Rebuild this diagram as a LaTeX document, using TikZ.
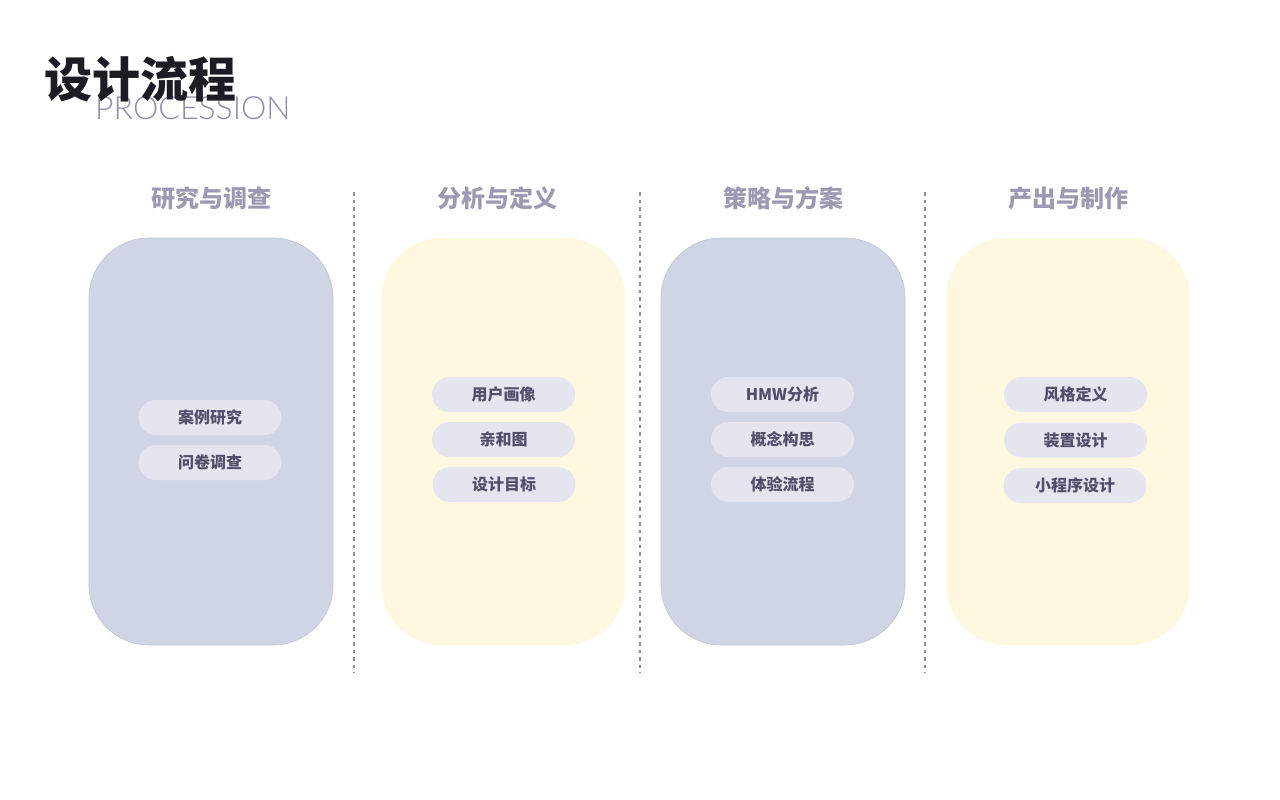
\documentclass[tikz,border=0pt]{standalone}
\usepackage{fontspec}
\setmainfont{Noto Sans CJK SC}
\newfontfamily\latinfont{Lato Light}
\definecolor{cardblue}{HTML}{D0D5E6}
\definecolor{cardyellow}{HTML}{FFF8E1}
\definecolor{pillgray}{HTML}{E4E5EF}
\definecolor{pilltext}{HTML}{51506B}
\definecolor{headgray}{HTML}{9B9AB2}
\definecolor{dashgray}{HTML}{8E8CA8}
\definecolor{subgray}{HTML}{8C8CB0}
\definecolor{titleblack}{HTML}{1C1C24}
\begin{document}
\begin{tikzpicture}[x=1pt,y=-1pt,
  card/.style={rounded corners=60pt, minimum width=244pt, minimum height=407pt, inner sep=0pt},
  blue card/.style={card, fill=cardblue, draw=cardblue!92!black, line width=0.6pt},
  yellow card/.style={card, fill=cardyellow},
  pill/.style={fill=pillgray, rounded corners=17.5pt, minimum width=143pt, minimum height=35pt, inner sep=0pt, text=pilltext, font=\bfseries\fontsize{16}{16}\selectfont},
  head/.style={text=headgray, inner sep=0pt, font=\bfseries\fontsize{24}{24}\selectfont},
  sep/.style={draw=dashgray, line width=1.8pt, dash pattern=on 3.5pt off 4pt}]
        \useasboundingbox (0,0) rectangle (1280,800);

        \node[text=subgray, inner sep=0pt, anchor=west, font=\latinfont\fontsize{32}{32}\selectfont] (P) at (95,108) {PROCESSION};
        \node[text=titleblack, inner sep=0pt, anchor=west, font=\bfseries\fontsize{48}{48}\selectfont] (T) at (44,79) {设计流程};

        \node[head] (HA) at (211,198) {研究与调查};
        \node[head] (HB) at (497,198) {分析与定义};
        \node[head] (HC) at (783,198) {策略与方案};
        \node[head] (HD) at (1068,198) {产出与制作};

        \node[blue card] (A) at (211,441.5) {};
        \node[yellow card] (B) at (503.5,441.5) {};
        \node[blue card] (C) at (783,441.5) {};
        \node[yellow card] (D) at (1068,441.5) {};

        \coordinate (S1) at (354,192);
        \coordinate (E1) at (354,673);
        \coordinate (S2) at (640,192);
        \coordinate (E2) at (640,673);
        \coordinate (S3) at (925,192);
        \coordinate (E3) at (925,673);
        \draw[sep] (S1) -- (E1);
        \draw[sep] (S2) -- (E2);
        \draw[sep] (S3) -- (E3);

        \node[pill] (A1) at (210,417.5) {案例研究};
        \node[pill] (A2) at (210,462.5) {问卷调查};

        \node[pill] (B1) at (503.5,394.5) {用户画像};
        \node[pill] (B2) at (503.5,439.5) {亲和图};
        \node[pill] (B3) at (504,484.5) {设计目标};

        \node[pill] (C1) at (782.5,394.5) {HMW分析};
        \node[pill] (C2) at (782.5,439.5) {概念构思};
        \node[pill] (C3) at (782.5,484.5) {体验流程};

        \node[pill] (D1) at (1075.5,394.5) {风格定义};
        \node[pill] (D2) at (1075.5,440) {装置设计};
        \node[pill] (D3) at (1075,485.5) {小程序设计};
      \end{tikzpicture}
\end{document}
